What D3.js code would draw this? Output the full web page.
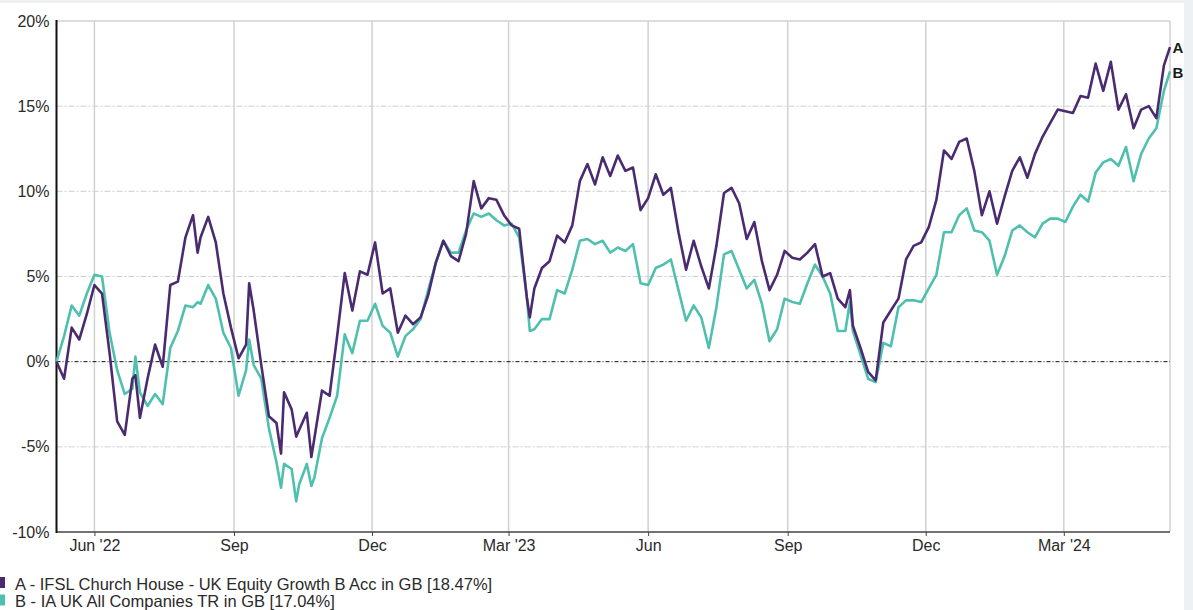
<!DOCTYPE html>
<html><head><meta charset="utf-8">
<script src="https://cdn.jsdelivr.net/npm/d3@7"></script>
<style>
html,body{margin:0;padding:0;background:#fff;}
svg{display:block;font-family:"Liberation Sans",Arial,sans-serif;}
</style></head><body>
<svg id="c" width="1193" height="610"></svg>
<script>
const dates=[
"2022-05-07","2022-05-12","2022-05-17","2022-05-22","2022-05-27",
"2022-06-01","2022-06-06","2022-06-11","2022-06-16","2022-06-21","2022-06-26","2022-06-28",
"2022-07-01","2022-07-06","2022-07-11","2022-07-16","2022-07-21","2022-07-26","2022-07-31",
"2022-08-05","2022-08-08","2022-08-10","2022-08-15","2022-08-20","2022-08-25","2022-08-30",
"2022-09-04","2022-09-09","2022-09-11","2022-09-14","2022-09-19","2022-09-24","2022-09-29",
"2022-10-02","2022-10-04","2022-10-09","2022-10-12","2022-10-14","2022-10-19","2022-10-22","2022-10-24","2022-10-29",
"2022-11-03","2022-11-08","2022-11-13","2022-11-18","2022-11-23","2022-11-28",
"2022-12-03","2022-12-08","2022-12-13","2022-12-18","2022-12-23","2022-12-28",
"2023-01-02","2023-01-07","2023-01-12","2023-01-17","2023-01-22","2023-01-27",
"2023-02-01","2023-02-06","2023-02-11","2023-02-16","2023-02-21","2023-02-26",
"2023-03-03","2023-03-08","2023-03-13","2023-03-15","2023-03-18","2023-03-23","2023-03-28",
"2023-04-02","2023-04-07","2023-04-12","2023-04-17","2023-04-22","2023-04-27",
"2023-05-02","2023-05-07","2023-05-12","2023-05-17","2023-05-22","2023-05-27",
"2023-06-01","2023-06-06","2023-06-11","2023-06-16","2023-06-21","2023-06-26",
"2023-07-01","2023-07-06","2023-07-11","2023-07-16","2023-07-21","2023-07-26","2023-07-31",
"2023-08-05","2023-08-10","2023-08-15","2023-08-20","2023-08-25","2023-08-30",
"2023-09-04","2023-09-09","2023-09-14","2023-09-19","2023-09-24","2023-09-29",
"2023-10-04","2023-10-09","2023-10-12","2023-10-14","2023-10-19","2023-10-24","2023-10-29",
"2023-11-03","2023-11-08","2023-11-13","2023-11-18","2023-11-23","2023-11-28",
"2023-12-03","2023-12-08","2023-12-13","2023-12-18","2023-12-23","2023-12-28",
"2024-01-02","2024-01-07","2024-01-12","2024-01-17","2024-01-22","2024-01-27",
"2024-02-01","2024-02-06","2024-02-11","2024-02-16","2024-02-21","2024-02-26",
"2024-03-02","2024-03-07","2024-03-12","2024-03-17","2024-03-22","2024-03-27",
"2024-04-01","2024-04-06","2024-04-11","2024-04-16","2024-04-21","2024-04-26",
"2024-05-01","2024-05-06","2024-05-10"];

const seriesA=[
0.0,-1.0,2.0,1.3,2.8,4.5,4.0,0.5,-3.5,-4.3,
-1.0,-0.8,-3.3,-1.0,1.0,-0.3,4.5,4.7,7.3,8.6,6.4,7.3,
8.5,7.0,4.0,2.0,0.2,1.0,4.6,3.0,-0.2,-3.2,-3.6,-5.4,
-1.8,-2.8,-4.4,-4.0,-3.0,-5.6,-4.5,-1.7,-2.0,1.5,5.2,3.0,
5.3,5.1,7.0,4.0,4.3,1.7,2.7,2.2,2.6,3.9,
5.8,7.1,6.2,5.9,7.5,10.6,9.0,9.6,9.5,8.6,
8.0,7.8,3.8,2.6,4.3,5.5,5.9,7.4,7.0,8.0,10.6,
11.6,10.4,12.0,10.9,12.1,11.2,11.4,8.9,9.6,11.0,
9.8,10.2,7.6,5.4,7.1,5.6,4.3,6.8,9.9,10.2,
9.3,7.2,8.2,5.9,4.2,5.1,6.5,6.1,6.0,6.4,
6.9,5.0,5.2,3.7,3.2,4.2,2.1,0.8,-0.6,-1.1,2.3,
3.0,3.7,6.0,6.8,7.0,7.9,9.5,12.4,11.9,12.9,
13.1,11.2,8.6,10.0,8.1,9.7,11.2,12.0,10.8,12.2,
13.2,14.0,14.8,14.7,14.6,15.6,15.5,17.5,15.9,17.6,
14.8,15.7,13.7,14.8,15.0,14.3,17.4,18.47];

const seriesB=[
0.0,1.5,3.3,2.7,4.0,5.1,5.0,1.7,-0.5,-1.9,
-1.6,0.3,-1.8,-2.6,-1.9,-2.5,0.8,1.8,3.3,3.2,3.5,3.4,
4.5,3.7,1.7,0.8,-2.0,-0.5,1.3,-0.2,-1.0,-3.9,-5.9,-7.4,
-6.0,-6.3,-8.2,-7.2,-6.0,-7.3,-6.8,-4.5,-3.3,-2.0,1.6,0.5,
2.4,2.4,3.4,2.1,1.7,0.3,1.5,1.9,2.5,4.2,
5.8,7.1,6.4,6.4,7.7,8.7,8.5,8.7,8.3,8.0,
8.1,7.3,3.8,1.8,1.9,2.5,2.5,4.2,4.0,5.4,7.1,
7.2,6.9,7.1,6.4,6.7,6.5,6.9,4.6,4.5,5.5,
5.7,6.0,4.2,2.4,3.3,2.6,0.8,3.2,6.3,6.5,
5.4,4.3,4.8,3.4,1.2,1.9,3.7,3.5,3.4,4.6,
5.7,5.0,4.0,1.8,1.8,3.5,1.8,0.4,-1.0,-1.2,1.1,
0.9,3.2,3.6,3.6,3.5,4.3,5.1,7.6,7.6,8.6,
9.0,7.7,7.6,7.1,5.1,6.2,7.7,8.0,7.6,7.3,
8.1,8.4,8.4,8.2,9.1,9.8,9.4,11.1,11.7,11.9,
11.5,12.6,10.6,12.2,13.1,13.7,15.9,17.04];

const yTicks=[-10,-5,0,5,10,15,20];
const xTickDates=["2022-06-01","2022-09-01","2022-12-01","2023-03-01","2023-06-01","2023-09-01","2023-12-01","2024-03-01"];
const xTickLabels=["Jun '22","Sep","Dec","Mar '23","Jun","Sep","Dec","Mar '24"];
const seriesKeys=["A","B"];
const legendLabels=["A - IFSL Church House - UK Equity Growth B Acc in GB [18.47%]","B - IA UK All Companies TR in GB [17.04%]"];
const seriesColors=["#4a2b70","#4fc0ae"];

const parse=d3.utcParse("%Y-%m-%d");
const W=1193,H=610;
const m={left:56.5,right:1170,top:21,bottom:532};
const svg=d3.select("#c");

// outer frame strips
svg.append("rect").attr("x",0).attr("y",0).attr("width",W).attr("height",3).attr("fill","#edf1f3");
svg.append("rect").attr("x",1184).attr("y",0).attr("width",W-1184).attr("height",H).attr("fill","#edf1f3");

const x=d3.scaleUtc().domain([parse(dates[0]),parse(dates[dates.length-1])]).range([m.left,m.right]);
const y=d3.scaleLinear().domain([-10,20]).range([m.bottom,m.top]);

// vertical grid
const tickD=xTickDates.map(parse);
svg.append("g").selectAll("line").data(tickD).join("line")
  .attr("x1",d=>x(d)).attr("x2",d=>x(d)).attr("y1",m.top).attr("y2",m.bottom)
  .attr("stroke","#d2d2d2").attr("stroke-width",1.5);
// right border
svg.append("line").attr("x1",m.right).attr("x2",m.right).attr("y1",m.top).attr("y2",m.bottom)
  .attr("stroke","#d2d2d2").attr("stroke-width",1.5);

// horizontal grid
svg.append("g").selectAll("line").data(yTicks.filter(v=>v!==0&&v!==-10)).join("line")
  .attr("x1",m.left).attr("x2",m.right).attr("y1",d=>y(d)).attr("y2",d=>y(d))
  .attr("stroke",d=>d===20?"#d2d2d2":"#cfcfcf").attr("stroke-width",d=>d===20?1.5:1)
  .attr("stroke-dasharray",d=>d===20?null:"6,2,2,2");
svg.append("line").attr("x1",m.left).attr("x2",m.right).attr("y1",y(0)).attr("y2",y(0))
  .attr("stroke","#111").attr("stroke-width",1).attr("stroke-dasharray","4,2,1,2");

// y axis labels
const yAxis=d3.axisLeft(y).tickValues(yTicks).tickFormat(d=>d+"%").tickSize(0).tickPadding(7);
const gy=svg.append("g").attr("transform",`translate(${m.left},0)`).call(yAxis);
gy.select(".domain").remove();
gy.selectAll("text").attr("font-size",16).attr("fill","#2a2a2a").attr("font-family","Liberation Sans, Arial, sans-serif");

// x axis
const xAxis=d3.axisBottom(x).tickValues(tickD).tickFormat((d,i)=>xTickLabels[i]).tickSize(4).tickPadding(4);
const gx=svg.append("g").attr("transform",`translate(0,${m.bottom})`).call(xAxis);
gx.select(".domain").remove();
gx.selectAll("line").attr("stroke","#444");
gx.selectAll("text").attr("font-size",16).attr("fill","#2a2a2a").attr("font-family","Liberation Sans, Arial, sans-serif");
svg.append("line").attr("x1",m.left).attr("x2",m.right).attr("y1",m.bottom).attr("y2",m.bottom)
  .attr("stroke","#444").attr("stroke-width",1.5);
// left axis line
svg.append("line").attr("x1",m.left).attr("x2",m.left).attr("y1",m.top-1).attr("y2",m.bottom+1)
  .attr("stroke","#111").attr("stroke-width",2);

// lines
const line=d3.line().x((d,i)=>x(parse(dates[i]))).y(d=>y(d));
const allSeries=[seriesA,seriesB];
[1,0].forEach(k=>{
  svg.append("path").datum(allSeries[k]).attr("d",line)
    .attr("fill","none").attr("stroke",seriesColors[k]).attr("stroke-width",2.6)
    .attr("stroke-linejoin","round");
});

// end labels
svg.append("text").attr("x",1172.5).attr("y",52.7).attr("font-size",15).attr("font-weight","bold").attr("fill","#1a1a1a").text(seriesKeys[0]);
svg.append("text").attr("x",1172.5).attr("y",77.7).attr("font-size",15).attr("font-weight","bold").attr("fill","#1a1a1a").text(seriesKeys[1]);

// legend
const lg=svg.append("g");
legendLabels.forEach((t,i)=>{
  lg.append("rect").attr("x",0).attr("y",577+i*17.5).attr("width",5).attr("height",11).attr("fill",seriesColors[i]);
  lg.append("text").attr("x",15).attr("y",590+i*16.5).attr("font-size",16.5).attr("fill","#2a2a2a").text(t);
});
</script>
</body></html>
